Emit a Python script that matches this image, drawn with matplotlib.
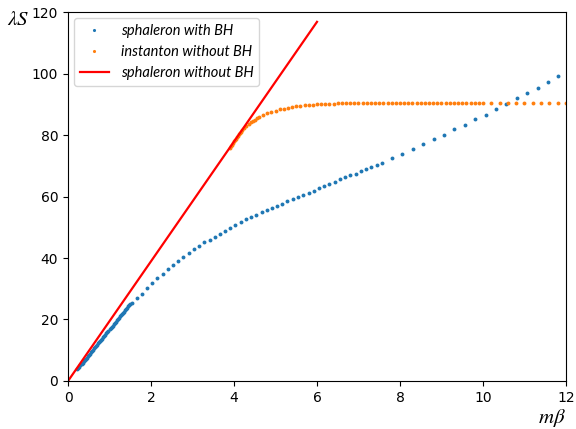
import matplotlib.pyplot as plt

# sphaleron with BH
bh_x = [0.225, 0.250, 0.275, 0.300, 0.325, 0.350, 0.375, 0.400, 0.425, 0.450, 0.475,
        0.500, 0.525, 0.550, 0.575, 0.600, 0.625, 0.650, 0.675, 0.700, 0.725, 0.750,
        0.775, 0.800, 0.825, 0.850, 0.875, 0.900, 0.925, 0.950, 0.975, 1.000, 1.025,
        1.050, 1.075, 1.100, 1.125, 1.150, 1.175, 1.200, 1.225, 1.250, 1.275, 1.300,
        1.325, 1.350, 1.375, 1.400, 1.425, 1.450, 1.475, 1.500,
        1.53, 1.66, 1.78, 1.90, 2.03, 2.15, 2.29, 2.41, 2.53, 2.65, 2.78, 2.92, 3.04,
        3.16, 3.28, 3.41, 3.54, 3.67, 3.79, 3.91, 4.03, 4.17, 4.30, 4.42, 4.54, 4.67,
        4.79, 4.92, 5.04, 5.16, 5.28, 5.41, 5.55, 5.67, 5.80, 5.92, 6.05, 6.18, 6.30,
        6.43, 6.55, 6.67, 6.80, 6.93, 7.05, 7.17, 7.30, 7.44, 7.56, 7.80, 8.06, 8.31,
        8.55, 8.82, 9.05, 9.29, 9.56, 9.81, 10.07, 10.31, 10.55, 10.82, 11.07, 11.33,
        11.57, 11.81]
bh_y = [3.9, 4.3, 4.7, 5.1, 5.5, 6.0, 6.4, 6.8, 7.2, 7.6, 8.1,
        8.5, 8.9, 9.3, 9.7, 10.1, 10.6, 11.0, 11.4, 11.8, 12.2, 12.6,
        13.0, 13.4, 13.8, 14.2, 14.7, 15.1, 15.5, 15.9, 16.4, 16.8, 17.2,
        17.6, 18.0, 18.4, 18.9, 19.3, 19.7, 20.1, 20.5, 21.0, 21.4, 21.8,
        22.2, 22.6, 23.1, 23.5, 23.9, 24.4, 24.8, 25.2,
        25.5, 27.0, 28.4, 30.2, 31.9, 33.4, 34.8, 36.3, 37.7, 39.0, 40.3, 41.6, 42.9,
        44.0, 45.1, 46.0, 46.9, 47.9, 48.8, 49.7, 50.8, 51.8, 52.6, 53.2, 54.0, 54.8,
        55.6, 56.4, 56.9, 57.7, 58.6, 59.2, 59.8, 60.5, 61.1, 61.9, 62.8, 63.3, 64.1,
        64.8, 65.6, 66.2, 66.9, 67.4, 68.4, 69.0, 69.7, 70.3, 71.0, 72.6, 73.9, 75.5,
        77.2, 78.6, 80.1, 81.8, 83.3, 85.1, 86.6, 88.3, 90.2, 91.9, 93.6, 95.4,
        97.4, 99.1]

# instanton without BH
inst_x = [3.900, 3.925, 3.950, 3.975, 4.000, 4.025, 4.050, 4.075, 4.100, 4.125, 4.150,
          4.175, 4.20, 4.25, 4.30, 4.35, 4.40, 4.45, 4.50, 4.55, 4.60,
          4.7, 4.8, 4.9, 5.0, 5.1, 5.2, 5.3, 5.4, 5.5, 5.6, 5.7, 5.8, 5.9, 6.0,
          6.1, 6.2, 6.3, 6.4, 6.5, 6.6, 6.7, 6.8, 6.9, 7.0, 7.1, 7.2, 7.3, 7.4,
          7.5, 7.6, 7.7, 7.8, 7.9, 8.0, 8.1, 8.2, 8.3, 8.4, 8.5, 8.6, 8.7, 8.8,
          8.9, 9.0, 9.1, 9.2, 9.3, 9.4, 9.5, 9.6, 9.7, 9.8, 9.9, 10.0,
          10.2, 10.4, 10.6, 10.8, 11.0, 11.2, 11.4, 11.6, 11.8, 12.0]
inst_y = [75.9, 76.4, 76.9, 77.4, 77.9, 78.4, 78.8, 79.3, 79.8, 80.2, 80.7,
          81.1, 81.6, 82.3, 83.0, 83.6, 84.1, 84.6, 85.0, 85.4, 85.8,
          86.5, 87.0, 87.5, 87.9, 88.3, 88.6, 88.9, 89.1, 89.3, 89.5, 89.6, 89.8, 89.9, 90.0,
          90.1, 90.1, 90.2, 90.2, 90.3, 90.3, 90.3, 90.4, 90.4, 90.4, 90.4, 90.4, 90.4, 90.4,
          90.4, 90.4, 90.4, 90.4, 90.4, 90.4, 90.4, 90.4, 90.4, 90.4, 90.4, 90.4, 90.4, 90.4,
          90.4, 90.4, 90.4, 90.4, 90.4, 90.4, 90.4, 90.4, 90.4, 90.4, 90.4, 90.4,
          90.4, 90.4, 90.4, 90.4, 90.4, 90.4, 90.4, 90.4, 90.4, 90.4]

# sphaleron without BH
line_x = [0, 6]
line_y = [0, 116.8]

plt.rcParams['mathtext.fontset'] = 'stix'

fig = plt.figure(figsize=(5.76, 4.29), dpi=100)
ax = fig.add_axes([0.1181, 0.1119, 0.8645, 0.8601])

ax.plot(bh_x, bh_y, 'o', color='#1f77b4', markersize=2.8, markeredgewidth=0,
        label='sphaleron with BH')
ax.plot(inst_x, inst_y, 'o', color='#ff7f0e', markersize=2.8, markeredgewidth=0,
        label='instanton without BH')
ax.plot(line_x, line_y, '-', color='red', linewidth=1.6, label='sphaleron without BH')

ax.set_xlim(0, 12)
ax.set_ylim(0, 120)
ax.set_xticks([0, 2, 4, 6, 8, 10, 12])
ax.set_yticks([0, 20, 40, 60, 80, 100, 120])

fig.text(0.012, 0.955, r'$\lambda S$', fontsize=15, ha='left', va='center')
fig.text(0.934, 0.026, r'$m\beta$', fontsize=15, ha='left', va='center')

ax.legend(loc='upper left', prop={'family': 'Lato', 'style': 'italic', 'size': 10.5},
          handlelength=2.0, borderaxespad=0.4, markerscale=0.8)

fig.savefig('out.png', dpi=100)
